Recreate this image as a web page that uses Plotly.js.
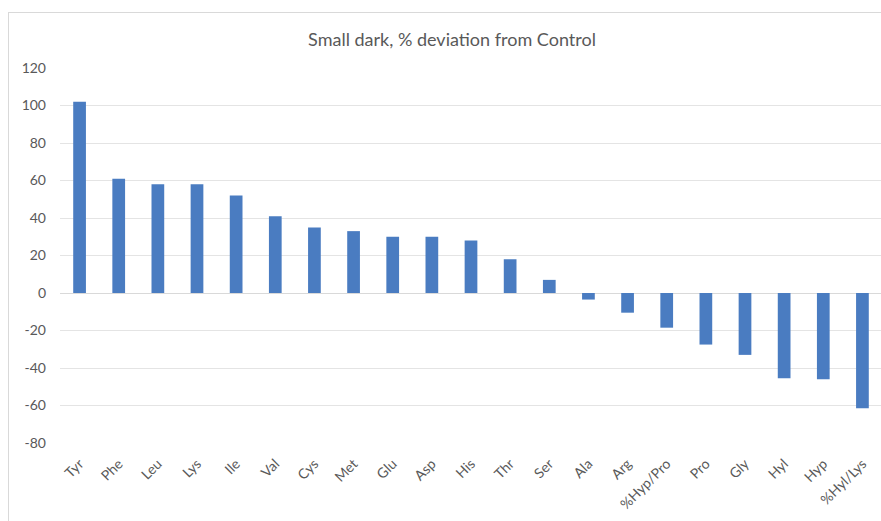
<!DOCTYPE html>
<html>
<head>
<meta charset="utf-8">
<script src="https://cdn.plot.ly/plotly-3.0.1.min.js"></script>
<style>
  html, body { margin: 0; padding: 0; background: #ffffff; overflow: hidden; width: 881px; height: 521px; }
  #frame { position: absolute; left: 8px; top: 12px; width: 900px; height: 540px; border: 1px solid #d9d9d9; box-sizing: border-box; }
  #chart { position: absolute; left: 0; top: 0; }
</style>
</head>
<body>
<div id="frame"></div>
<div id="chart"></div>
<script>
// Amino acids and ratios, % deviation from the control group
const categories = ["Tyr", "Phe", "Leu", "Lys", "Ile", "Val", "Cys", "Met", "Glu", "Asp", "His",
                    "Thr", "Ser", "Ala", "Arg", "%Hyp/Pro", "Pro", "Gly", "Hyl", "Hyp", "%Hyl/Lys"];
const deviation = [102, 61, 58, 58, 52, 41, 35, 33, 30, 30, 28,
                   18, 7, -3.5, -10.5, -18.5, -27.5, -33, -45.5, -46, -61.5];
const yTicks = [-80, -60, -40, -20, 0, 20, 40, 60, 80, 100, 120];

const textColor = "#595959";
const fontFamily = "Lato, 'Open Sans', 'Noto Sans', sans-serif";

const trace = {
  type: "bar",
  x: categories,
  y: deviation,
  marker: { color: "#4a7cc1", line: { width: 0 } },
  hoverinfo: "x+y"
};

const layout = {
  width: 890,
  height: 521,
  margin: { l: 60, r: 8, t: 68, b: 78 },
  paper_bgcolor: "rgba(0,0,0,0)",
  plot_bgcolor: "rgba(0,0,0,0)",
  showlegend: false,
  bargap: 0.675,
  font: { family: fontFamily, color: textColor, size: 14 },
  title: {
    text: "Small dark, % deviation from Control",
    font: { family: fontFamily, size: 18, color: textColor },
    x: 452 / 890, xanchor: "center", xref: "container",
    y: 1 - 40 / 521, yanchor: "middle", yref: "container"
  },
  xaxis: {
    type: "category",
    tickangle: -45,
    showgrid: false,
    showline: false,
    zeroline: false,
    ticks: "",
    ticklabelstandoff: 9,
    tickfont: { family: fontFamily, size: 14, color: textColor }
  },
  yaxis: {
    range: [-80, 120],
    tickvals: yTicks,
    ticktext: yTicks.map(String),
    showgrid: true,
    gridcolor: "#e4e4e4",
    gridwidth: 1,
    zeroline: true,
    zerolinecolor: "#d9d9d9",
    zerolinewidth: 1,
    showline: false,
    ticks: "",
    ticklabelstandoff: 13,
    tickfont: { family: fontFamily, size: 14, color: textColor }
  }
};

Plotly.newPlot("chart", [trace], layout, { displayModeBar: false, staticPlot: true });
</script>
</body>
</html>
